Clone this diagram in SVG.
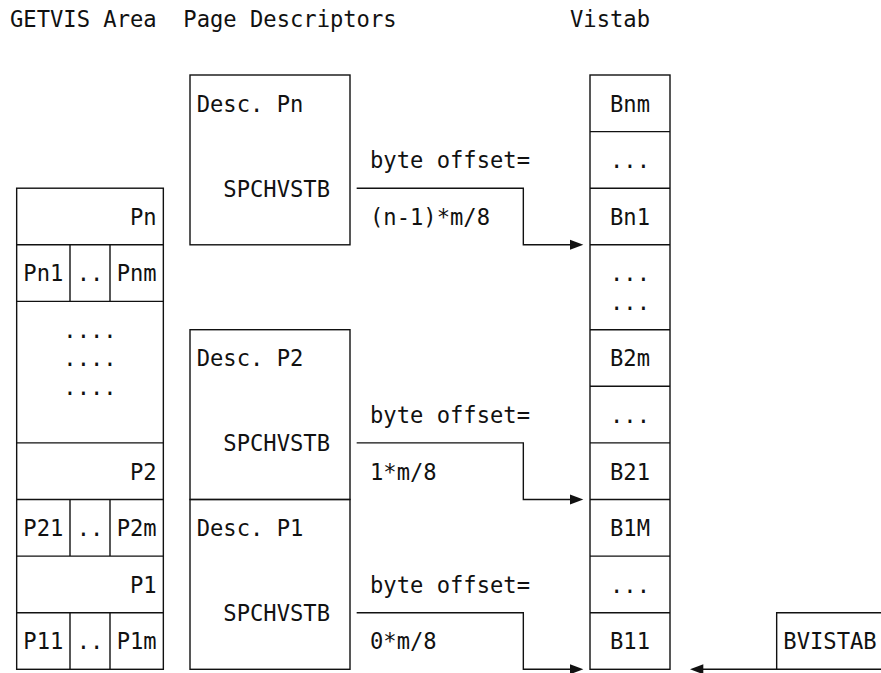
<svg xmlns="http://www.w3.org/2000/svg" width="881" height="673" viewBox="0 0 881 673">
  <style>
    text { font-family: "DejaVu Sans Mono", "Liberation Mono", monospace; font-size: 22.15px; fill: #111; }
    .box { fill: none; stroke: #111; stroke-width: 1.4; }
    .ln { fill: none; stroke: #111; stroke-width: 1.4; }
    .con { fill: none; stroke: #111; stroke-width: 1.4; }
    .head { fill: #111; stroke: none; }
  </style>
  <rect x="0" y="0" width="881" height="673" fill="#ffffff"/>

  <g id="titles">
    <text x="10" y="26.7">GETVIS Area</text>
    <text x="183.33" y="26.7">Page Descriptors</text>
    <text x="570" y="26.7">Vistab</text>
  </g>

  <g id="getvis-area">
    <rect class="box" x="16.67" y="188.2" width="146.67" height="481.1"/>
    <line class="ln" x1="16.67" y1="244.8" x2="163.33" y2="244.8"/>
    <line class="ln" x1="16.67" y1="301.4" x2="163.33" y2="301.4"/>
    <line class="ln" x1="16.67" y1="442.9" x2="163.33" y2="442.9"/>
    <line class="ln" x1="16.67" y1="499.5" x2="163.33" y2="499.5"/>
    <line class="ln" x1="16.67" y1="556.1" x2="163.33" y2="556.1"/>
    <line class="ln" x1="16.67" y1="612.7" x2="163.33" y2="612.7"/>
    <line class="ln" x1="70" y1="244.8" x2="70" y2="301.4"/>
    <line class="ln" x1="110" y1="244.8" x2="110" y2="301.4"/>
    <line class="ln" x1="70" y1="499.5" x2="70" y2="556.1"/>
    <line class="ln" x1="110" y1="499.5" x2="110" y2="556.1"/>
    <line class="ln" x1="70" y1="612.7" x2="70" y2="669.3"/>
    <line class="ln" x1="110" y1="612.7" x2="110" y2="669.3"/>
    <text x="130" y="224.8">Pn</text>
    <text x="23.33" y="281.4">Pn1</text>
    <text x="76.67" y="281.4">..</text>
    <text x="116.67" y="281.4">Pnm</text>
    <text x="63.33" y="338">....</text>
    <text x="63.33" y="366.3">....</text>
    <text x="63.33" y="394.6">....</text>
    <text x="130" y="479.5">P2</text>
    <text x="23.33" y="536.1">P21</text>
    <text x="76.67" y="536.1">..</text>
    <text x="116.67" y="536.1">P2m</text>
    <text x="130" y="592.7">P1</text>
    <text x="23.33" y="649.3">P11</text>
    <text x="76.67" y="649.3">..</text>
    <text x="116.67" y="649.3">P1m</text>
  </g>

  <g id="desc-pn">
    <rect class="box" x="190" y="75" width="160" height="169.8"/>
    <text x="196.67" y="111.6">Desc. Pn</text>
    <text x="223.33" y="196.5">SPCHVSTB</text>
  </g>

  <g id="desc-p2">
    <rect class="box" x="190" y="329.7" width="160" height="169.8"/>
    <text x="196.67" y="366.3">Desc. P2</text>
    <text x="223.33" y="451.2">SPCHVSTB</text>
  </g>

  <g id="desc-p1">
    <rect class="box" x="190" y="499.5" width="160" height="169.8"/>
    <text x="196.67" y="536.1">Desc. P1</text>
    <text x="223.33" y="621">SPCHVSTB</text>
  </g>

  <g id="vistab">
    <rect class="box" x="590" y="75" width="80" height="594.3"/>
    <line class="ln" x1="590" y1="131.6" x2="670" y2="131.6"/>
    <line class="ln" x1="590" y1="188.2" x2="670" y2="188.2"/>
    <line class="ln" x1="590" y1="244.8" x2="670" y2="244.8"/>
    <line class="ln" x1="590" y1="329.7" x2="670" y2="329.7"/>
    <line class="ln" x1="590" y1="386.3" x2="670" y2="386.3"/>
    <line class="ln" x1="590" y1="442.9" x2="670" y2="442.9"/>
    <line class="ln" x1="590" y1="499.5" x2="670" y2="499.5"/>
    <line class="ln" x1="590" y1="556.1" x2="670" y2="556.1"/>
    <line class="ln" x1="590" y1="612.7" x2="670" y2="612.7"/>
    <text x="610" y="111.6">Bnm</text>
    <text x="610" y="168.2">...</text>
    <text x="610" y="224.8">Bn1</text>
    <text x="610" y="281.4">...</text>
    <text x="610" y="309.7">...</text>
    <text x="610" y="366.3">B2m</text>
    <text x="610" y="422.9">...</text>
    <text x="610" y="479.5">B21</text>
    <text x="610" y="536.1">B1M</text>
    <text x="610" y="592.7">...</text>
    <text x="610" y="649.3">B11</text>
  </g>

  <g id="bvistab">
    <path class="box" d="M 890 612.7 H 776.67 V 669.3 H 890"/>
    <text x="783.33" y="649.3">BVISTAB</text>
  </g>

  <g id="connectors">
    <text x="370" y="168.2">byte offset=</text>
    <text x="370" y="224.8">(n-1)*m/8</text>
    <path class="con" d="M 356.67 188.2 H 523.33 V 244.8 H 572"/>
    <polygon class="head" points="570,239.8 583.33,244.8 570,249.8"/>

    <text x="370" y="422.9">byte offset=</text>
    <text x="370" y="479.5">1*m/8</text>
    <path class="con" d="M 356.67 442.9 H 523.33 V 499.5 H 572"/>
    <polygon class="head" points="570,494.5 583.33,499.5 570,504.5"/>

    <text x="370" y="592.7">byte offset=</text>
    <text x="370" y="649.3">0*m/8</text>
    <path class="con" d="M 356.67 612.7 H 523.33 V 669.3 H 572"/>
    <polygon class="head" points="570,664.3 583.33,669.3 570,674.3"/>

    <path class="con" d="M 776.67 669.3 H 702"/>
    <polygon class="head" points="703.33,664.3 690,669.3 703.33,674.3"/>
  </g>
</svg>
